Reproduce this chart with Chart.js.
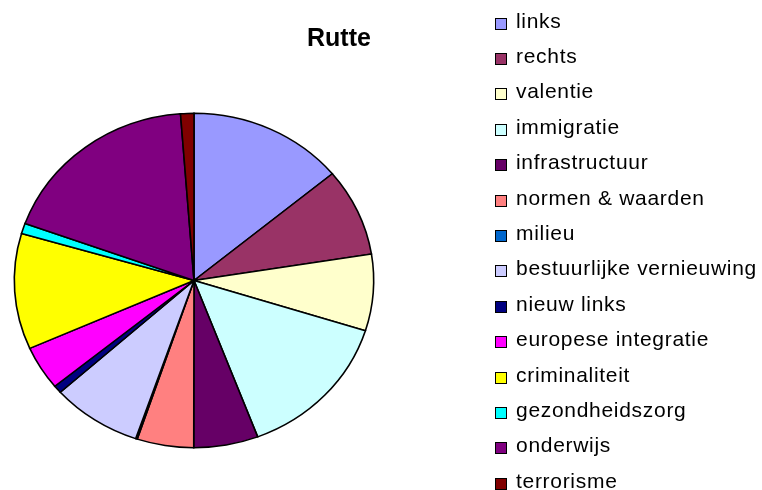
<!DOCTYPE html>
<html>
<head>
<meta charset="utf-8">
<script src="https://cdn.jsdelivr.net/npm/chart.js@4/dist/chart.umd.min.js"></script>
<style>
  html, body { margin: 0; padding: 0; background: #fff; }
  #wrap { position: relative; width: 762px; height: 490px; overflow: hidden; }
  #c { position: absolute; left: 0; top: 0; }
  #title { position: absolute; left: 239px; width: 200px; top: 22px; text-align: center;
           font: bold 25px "Liberation Sans", Arial, sans-serif; color: #000; line-height: 30px; }
  #legend { position: absolute; left: 495px; top: 0; font: 21px "Liberation Sans", Arial, sans-serif; color: #000; }
  .item { position: absolute; left: 0; white-space: nowrap; height: 24px; line-height: 24px; letter-spacing: 0.7px; }
  .box { position: absolute; left: 0; top: 6px; width: 10px; height: 10px; border: 1px solid #000; }
  .lbl { position: absolute; left: 21px; top: -3px; }
</style>
</head>
<body>
<div id="wrap">
  <canvas id="c" width="762" height="490"></canvas>
  <div id="title">Rutte</div>
  <div id="legend"></div>
</div>
<script>
const chartTitle = 'Rutte';
const categories = ['links', 'rechts', 'valentie', 'immigratie', 'infrastructuur', 'normen & waarden', 'milieu',
  'bestuurlijke vernieuwing', 'nieuw links', 'europese integratie', 'criminaliteit', 'gezondheidszorg', 'onderwijs', 'terrorisme'];
const values = [14.0, 8.5, 7.4, 14.4, 5.8, 5.1, 0.15, 8.1, 0.75, 4.25, 11.2, 1.0, 18.3, 1.2];
const colors = ['#9999FF', '#993366', '#FFFFCC', '#CCFFFF', '#660066', '#FF8080', '#0066CC',
  '#CCCCFF', '#000080', '#FF00FF', '#FFFF00', '#00FFFF', '#800080', '#800000'];

document.getElementById('title').textContent = chartTitle;

const legendEl = document.getElementById('legend');
categories.forEach((name, i) => {
  const it = document.createElement('div');
  it.className = 'item';
  it.style.top = (11.5 + i * 35.4) + 'px';
  const b = document.createElement('div');
  b.className = 'box';
  b.style.background = colors[i];
  const t = document.createElement('span');
  t.className = 'lbl';
  t.textContent = name;
  it.appendChild(b); it.appendChild(t);
  legendEl.appendChild(it);
});

const squash = {
  id: 'squash',
  beforeDatasetsDraw(chart) {
    const ctx = chart.ctx, a = chart.chartArea;
    const cy = (a.top + a.bottom) / 2;
    ctx.save();
    ctx.translate(0, cy);
    ctx.scale(1, 0.9306);
    ctx.translate(0, -cy);
  },
  afterDatasetsDraw(chart) { chart.ctx.restore(); }
};

new Chart(document.getElementById('c'), {
  type: 'pie',
  data: {
    labels: categories,
    datasets: [{
      data: values,
      backgroundColor: colors,
      borderColor: '#000',
      borderWidth: 1.6,
      borderJoinStyle: 'miter',
      hoverOffset: 0,
      offset: 0,
      clip: false
    }]
  },
  options: {
    responsive: false,
    animation: false,
    events: [],
    layout: { padding: { left: 13, right: 387, top: 100, bottom: 29 } },
    plugins: { legend: { display: false }, title: { display: false }, tooltip: { enabled: false } }
  },
  plugins: [squash]
});
</script>
</body>
</html>
